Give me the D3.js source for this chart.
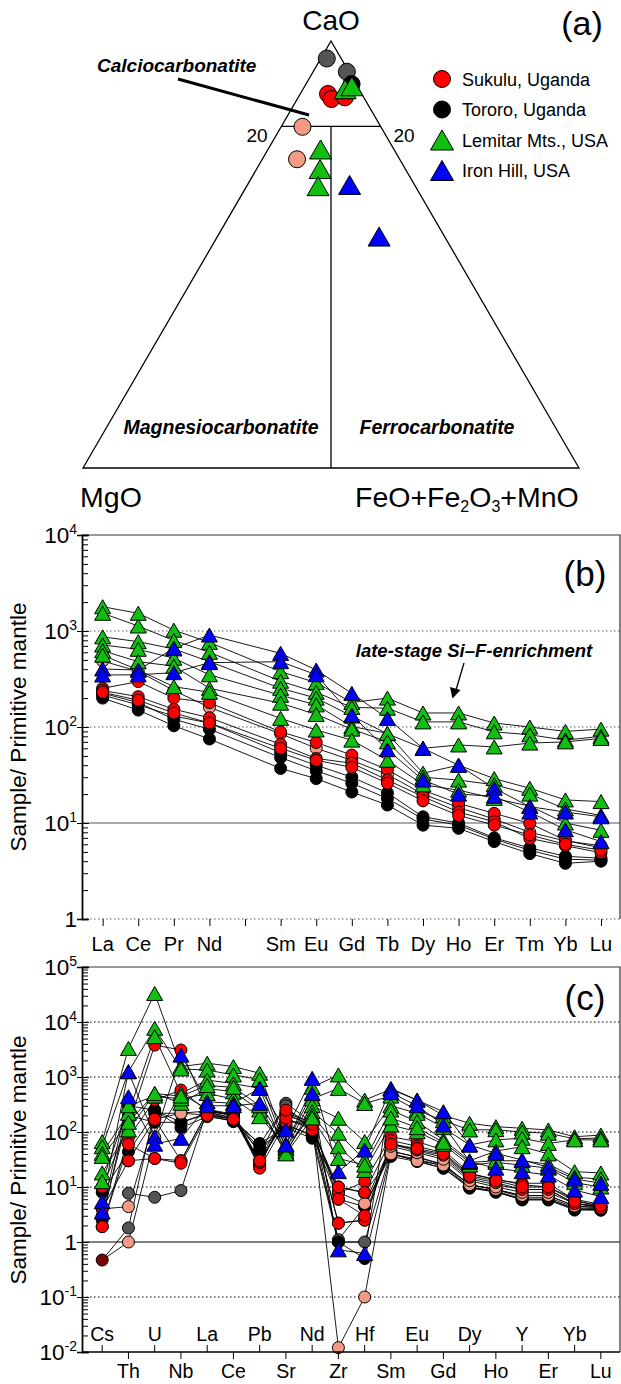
<!DOCTYPE html>
<html>
<head>
<meta charset="UTF-8">
<title>Carbonatite CaO-MgO-FeO and mantle-normalised diagrams</title>
<style>
  body { margin: 0; background: #fff; }
  text { font-family: "Liberation Sans", Arial, sans-serif; fill: #000; }
  .bi { font-weight: bold; font-style: italic; }
</style>
</head>
<body>
<svg id="fig" width="621" height="1384"></svg>
<script src="https://cdn.jsdelivr.net/npm/d3@7/dist/d3.min.js"></script>
<script>
// ---- data ----
const localities = ["Sukulu, Uganda", "Tororo, Uganda", "Lemitar Mts., USA", "Iron Hill, USA"];

// (a) ternary, wt% [CaO, MgO, FeO+Fe2O3+MnO]
const terSukulu    = [[87.6, 6.8, 5.6], [86.4, 6.7, 6.9], [86.8, 3.8, 9.4]];
const terSukuluAlt = [[79.9, 15.8, 4.3], [72.3, 20.7, 7.0]];
const terTororo    = [[89.9, 0.9, 9.2]];
const terTororoAlt = [[95.9, 2.9, 1.2], [92.8, 0.4, 6.8]];
const terLemitar   = [[88.7, 2.8, 8.5], [89.4, 1.1, 9.5], [74.6, 14.8, 10.6], [70.0, 17.2, 12.8], [66.0, 19.6, 14.4]];
const terIronHill  = [[66.3, 13.2, 20.6], [54.2, 13.2, 32.6]];

// (b) REE, primitive mantle normalised (Pm not analysed)
const reeTicks = ["La", "Ce", "Pr", "Nd", "", "Sm", "Eu", "Gd", "Tb", "Dy", "Ho", "Er", "Tm", "Yb", "Lu"];
const reeLemitar = [
  [1790, 1530, 1020, 760, null, 377, 290, 180, 200, 140, 140, 110, 100, 90, 95],
  [1530, 1127, 795, 600, null, 300, 230, 160, 157, 113, 113, 89, 83, 73, 80],
  [870, 774, 650, 480, null, 253, 200, 130, 85, 60, 65, 62, 68, 70, 76],
  [715, 645, 520, 350, null, 214, 170, 101, 86, 33, 40, 29, 23, 17.4, 16.7],
  [624, 479, 430, 253, null, 177, 135, 95, 70, 30, 28, 25, 20, 14, 12],
  [560, 392, 263, 230, null, 123, 93, 73, 45, 25, 22, 18, 15, 10, 8.4]
];
const reeIronHill = [
  [402, 392, 661, 908, null, 585, 392, 224, 123, 60, 40, 23, 14.8, 13, 11.6],
  [348, 350, 368, 468, null, 479, 350, 133, 58, 28, 20, 19, 13, 8.5, 6.4]
];
const reeSukulu = [
  [253, 297, 200, 179, null, 89, 69, 51, 36, 22, 16, 12.6, 9.9, 6.6, 5.5],
  [240, 207, 153, 125, null, 66, 47, 42, 28, 18.8, 13, 10.3, 6.9, 5.8, 4.9],
  [230, 190, 140, 110, null, 60, 45, 38, 26, 17, 12, 9.5, 7.5, 6, 5.2]
];
const reeSukuluAlt = [
  [487, 380, 240, 160, null, 85, 60, 45, 32, 20, 14.5, 11, 8, 6.5, 5.8]
];
const reeTororo = [
  [215, 170, 130, 110, null, 54, 40, 30, 20.6, 11.6, 10, 7, 5.5, 4.5, 4.3],
  [200, 150, 103, 75, null, 37, 29, 21, 15.4, 9.5, 8.8, 6.4, 4.8, 3.8, 4.0],
  [225, 180, 120, 95, null, 48, 35, 26, 18, 11, 9.5, 6.8, 5.2, 4.2, 4.1]
];

// (c) multi-element, primitive mantle normalised
const spiderTicks = ["Cs", "Th", "U", "Nb", "La", "Ce", "Pb", "Sr", "Nd", "Zr", "Hf", "Sm", "Eu", "Gd", "Dy", "Ho", "Y", "Er", "Yb", "Lu"];
const spLemitar = [
  [67, 3300, 33000, 1550, 1780, 1550, 1170, 60, 650, 1090, 380, 600, 380, 200, 144, 125, 117, 109, 82, 88],
  [54, 1250, 7700, 1400, 1340, 1090, 900, 50, 400, 620, 330, 450, 250, 160, 109, 110, 100, 95, 75, 78],
  [41, 219, 5400, 500, 880, 760, 620, 41, 300, 178, 67, 300, 219, 120, 58, 72, 77, 62, 72, 72],
  [18, 109, 500, 333, 620, 537, 251, 45, 234, 95, 31, 251, 154, 72, 30, 45, 54, 40, 19, 18],
  [12.5, 300, 450, 400, 500, 400, 190, 55, 200, 54, 20, 134, 101, 60, 25, 28, 25, 22, 12, 10],
  [36, 150, 500, 450, 700, 650, 300, 40, 180, 33, 25, 180, 120, 65, 28, 30, 30, 26, 15, 14]
];
const spIronHill = [
  [5.4, 1250, 82, 2500, 355, 333, 620, 109, 946, 19, 47, 620, 380, 234, 58, 41, 31, 23, 14, 11.7],
  [3.5, 438, 60, 77, 300, 300, 333, 58, 500, 0.72, 0.62, 520, 300, 134, 29, 22, 19, 16.5, 8.8, 6.7]
];
const spSukulu = [
  [10, 134, 3800, 3100, 251, 204, 25, 219, 125, 7.7, 12.5, 82, 67, 47, 18, 13.4, 11.7, 11.7, 5.8, 4.4],
  [1.9, 80, 380, 580, 240, 200, 22, 154, 150, 2.2, 2.5, 62, 47, 38, 15, 12, 9, 9, 5, 4.2],
  [4, 30, 170, 30, 230, 180, 28, 180, 110, 10, 8, 70, 55, 42, 17, 14, 11, 10, 6, 4.8],
  [1.9, 60, 33, 27, 200, 170, 30, 250, 140, 6, 3, 60, 50, 40, 16, 13, 10, 10, 5.5, 4.6]
];
const spSukuluAlt = [
  [null, 30, 33, 30, 230, 180, 25, 220, 150, 0.012, 0.1, 40, 30, 25, 11, 9, 7, 7, 4.5, 4.2],
  [null, 1.0, 80, 500, 260, 210, 28, 200, 140, 2.2, 2.5, 60, 45, 35, 14, 11, 9, 9, 5, 4.5],
  [4, 4.4, 170, 220, 240, 200, 30, 160, 130, 8, 5, 55, 42, 32, 13, 10, 8, 8, 5, 4.4]
];
const spTororo = [
  [8, 44, 219, 219, 204, 154, 62, 120, 77, 10, 7.8, 36, 29, 22, 9.5, 8.2, 5.8, 5.8, 3.8, 3.8],
  [3, 200, 150, 150, 220, 170, 50, 130, 90, 6, 4.4, 45, 35, 26, 11, 9, 6.5, 6.5, 4.2, 4],
  [2.5, 300, 250, 120, 190, 160, 45, 140, 85, 1.0, 0.5, 40, 32, 24, 10, 8.5, 6, 6, 4, 3.9]
];
const spTororoAlt = [
  [null, 7.7, 6.5, 8.6, 250, 200, 40, 333, 150, 1.0, 1.0, 45, 35, 25, 11, 9, 7, 7, 4.5, 4.2],
  [null, 1.8, 250, 150, 210, 170, 60, 300, 100, 1.1, 4.4, 40, 30, 22, 10, 8, 6, 6, 4, 3.8]
];
// one Cs analysis shared by two low-Th samples, plotted dark red, joined to Th = 1.0 and 1.8
const spCsLow = { value: 0.47, th: [1.0, 1.8] };

// ---- styles ----
const sty = {
  red:    { fill: "#ff0000", shape: "c" },
  salmon: { fill: "#f29a83", shape: "c" },
  black:  { fill: "#000000", shape: "c" },
  grey:   { fill: "#555555", shape: "c" },
  maroon: { fill: "#760606", shape: "c" },
  green:  { fill: "#10bf10", shape: "t" },
  blue:   { fill: "#0000ff", shape: "t" }
};

const svg = d3.select("#fig");

function tri(w, h) { return `M0,${-h / 2}L${w / 2},${h / 2}L${-w / 2},${h / 2}Z`; }

function marker(g, x, y, st, r, w, h) {
  if (st.shape === "c") {
    g.append("circle").attr("cx", x).attr("cy", y).attr("r", r)
      .attr("fill", st.fill).attr("stroke", "#000").attr("stroke-width", 1);
  } else {
    g.append("path").attr("d", tri(w, h)).attr("transform", `translate(${x},${y})`)
      .attr("fill", st.fill).attr("stroke", "#000").attr("stroke-width", 1);
  }
}

function sup(sel, base, exp, fs, sfs) {
  sel.append("tspan").text(base).attr("font-size", fs);
  sel.append("tspan").text(exp).attr("font-size", sfs).attr("dy", -fs * 0.42);
}

// ---- (a) ternary ----
const ga = svg.append("g");
const yT = d3.scaleLinear([0, 100], [468, 41]);
const xT = d3.scaleLinear([0, 100], [83, 579]);
const tp = (ca, fe) => [xT(fe + ca / 2), yT(ca)];

ga.append("path")
  .attr("d", d3.line()([tp(0, 0), tp(0, 100), tp(100, 0)]) + "Z")
  .attr("fill", "none").attr("stroke", "#000").attr("stroke-width", 1.3);
ga.append("path").attr("d", d3.line()([tp(80, 0), tp(80, 20)]))
  .attr("stroke", "#000").attr("stroke-width", 1.3);
ga.append("path").attr("d", d3.line()([tp(80, 10), tp(0, 50)]))
  .attr("stroke", "#000").attr("stroke-width", 1.3);

ga.append("text").attr("x", 331).attr("y", 30).attr("text-anchor", "middle").attr("font-size", 28).text("CaO");
ga.append("text").attr("x", 582).attr("y", 35).attr("text-anchor", "middle").attr("font-size", 34).text("(a)");
ga.append("text").attr("x", 111).attr("y", 507).attr("text-anchor", "middle").attr("font-size", 28.5).text("MgO");
const feLab = ga.append("text").attr("x", 355).attr("y", 507).attr("font-size", 28.5);
feLab.append("tspan").text("FeO+Fe");
feLab.append("tspan").text("2").attr("font-size", 16).attr("dy", 5);
feLab.append("tspan").text("O").attr("dy", -5);
feLab.append("tspan").text("3").attr("font-size", 16).attr("dy", 5);
feLab.append("tspan").text("+MnO").attr("dy", -5);
ga.append("text").attr("x", 257).attr("y", 142).attr("text-anchor", "middle").attr("font-size", 19).text("20");
ga.append("text").attr("x", 404).attr("y", 142).attr("text-anchor", "middle").attr("font-size", 19).text("20");
ga.append("text").attr("class", "bi").attr("x", 97).attr("y", 72).attr("font-size", 19).text("Calciocarbonatite");
ga.append("line").attr("x1", 178).attr("y1", 79).attr("x2", 309).attr("y2", 115)
  .attr("stroke", "#000").attr("stroke-width", 3);
ga.append("text").attr("class", "bi").attr("x", 221).attr("y", 434).attr("text-anchor", "middle").attr("font-size", 19.5).text("Magnesiocarbonatite");
ga.append("text").attr("class", "bi").attr("x", 437).attr("y", 434).attr("text-anchor", "middle").attr("font-size", 19.5).text("Ferrocarbonatite");

[[terTororoAlt, sty.grey], [terTororo, sty.black], [terSukulu, sty.red], [terSukuluAlt, sty.salmon],
 [terLemitar, sty.green], [terIronHill, sty.blue]].forEach(([rows, st]) => {
  rows.forEach(d => {
    const p = tp(d[0], d[2]);
    marker(ga, p[0], p[1], st, 8.5, 22, 19);
  });
});

// legend
const legSty = [sty.red, sty.black, sty.green, sty.blue];
localities.forEach((name, i) => {
  const y = 79 + i * 30.5;
  marker(ga, 442, y, legSty[i], 8.5, 23, 20);
  ga.append("text").attr("x", 462).attr("y", y + 6.5).attr("font-size", 18).text(name);
});

// ---- log panels ----
function logPanel(cfg) {
  const g = svg.append("g");
  const x = d3.scaleLinear(cfg.xDomain, [cfg.x0, cfg.x1]);
  const y = d3.scaleLog(cfg.yDomain, [cfg.yBot, cfg.yTop]);
  const exps = d3.range(Math.log10(cfg.yDomain[0]), Math.log10(cfg.yDomain[1]) + 1);
  const majors = exps.map(e => Math.pow(10, e));
  const minors = [];
  exps.slice(0, -1).forEach(e => d3.range(2, 10).forEach(k => minors.push(k * Math.pow(10, e))));

  // grid
  cfg.grid.forEach(([v, kind]) => {
    g.append("line").attr("x1", cfg.x0).attr("x2", cfg.x1).attr("y1", y(v)).attr("y2", y(v))
      .attr("stroke", cfg.gridColor).attr("stroke-width", 1)
      .attr("stroke-dasharray", kind === "dot" ? "1.5,2.5" : null);
  });
  // frame top + right
  g.append("path").attr("d", `M${cfg.x0},${cfg.yTop}H${cfg.x1}V${cfg.yBot}`)
    .attr("fill", "none").attr("stroke", "#333").attr("stroke-width", 1.2);

  // y axis
  const ax = g.append("g").attr("transform", `translate(${cfg.x0},0)`);
  ax.call(d3.axisLeft(y).tickValues(majors).tickSize(5).tickFormat(""));
  ax.append("g").call(d3.axisRight(y).tickValues(majors).tickSize(7).tickFormat(""));
  ax.append("g").call(d3.axisRight(y).tickValues(minors).tickSize(6).tickFormat(""));
  ax.selectAll("path.domain").attr("stroke", "#000").attr("stroke-width", 1.3);
  ax.selectAll(".tick line").attr("stroke", "#000");

  exps.forEach(e => {
    const t = g.append("text").attr("x", cfg.x0 - 5).attr("y", y(Math.pow(10, e)) + 8)
      .attr("text-anchor", "end");
    if (e === 0) t.attr("font-size", 22.5).text("1");
    else sup(t, "10", String(e), 22.5, 14);
  });

  g.append("text").attr("transform", `translate(26,${cfg.titleY}) rotate(-90)`)
    .attr("text-anchor", "middle").attr("font-size", 22.5).text("Sample/ Primitive mantle");
  g.append("text").attr("x", 585).attr("y", cfg.tagY).attr("text-anchor", "middle")
    .attr("font-size", 35).text(cfg.tag);

  // series
  const line = d3.line().x(d => x(d[0])).y(d => y(d[1]));
  const ptsOf = vals => vals.map((v, i) => [i, v]).filter(d => d[1] != null);
  cfg.sets.forEach(([rows]) => rows.forEach(vals => {
    g.append("path").attr("d", line(ptsOf(vals))).attr("fill", "none")
      .attr("stroke", "#000").attr("stroke-width", 0.9);
  }));
  cfg.sets.forEach(([rows, st]) => rows.forEach(vals => {
    ptsOf(vals).forEach(d => marker(g, x(d[0]), y(d[1]), st, 6, 16, 14));
  }));
  return { g, x, y, line };
}

// (b)
const pb = logPanel({
  x0: 82, x1: 620, yTop: 535, yBot: 919,
  xDomain: [-0.58, 14.534], yDomain: [1, 1e4],
  grid: [[1e3, "dot"], [1e2, "dot"], [10, "solid"], [1, "dot"]],
  gridColor: "#555", titleY: 727, tag: "(b)", tagY: 586,
  sets: [[reeTororo, sty.black], [reeSukuluAlt, sty.salmon], [reeSukulu, sty.red],
         [reeLemitar, sty.green], [reeIronHill, sty.blue]]
});
pb.g.append("g").attr("transform", "translate(0,919)")
  .call(d3.axisBottom(pb.x).tickValues(d3.range(reeTicks.length)).tickSize(7).tickFormat(""))
  .call(s => s.select(".domain").remove())
  .selectAll(".tick line").attr("stroke", "#000");
reeTicks.forEach((t, i) => {
  pb.g.append("text").attr("x", pb.x(i)).attr("y", 951).attr("text-anchor", "middle")
    .attr("font-size", 20).text(t);
});
pb.g.append("text").attr("class", "bi").attr("x", 474).attr("y", 657).attr("text-anchor", "middle")
  .attr("font-size", 18.5).text("late-stage Si\u2013F-enrichment");
pb.g.append("line").attr("x1", 464).attr("y1", 663).attr("x2", 456).attr("y2", 690)
  .attr("stroke", "#000").attr("stroke-width", 1.3);
pb.g.append("path").attr("d", "M452.5,698.5L450,687L460.5,690Z").attr("fill", "#000");

// (c)
const pc = logPanel({
  x0: 82, x1: 620, yTop: 967, yBot: 1352,
  xDomain: [-0.77, 19.73], yDomain: [1e-2, 1e5],
  grid: [[1e4, "dot"], [1e3, "dot"], [1e2, "dot"], [10, "dot"], [1, "solid"], [0.1, "dot"]],
  gridColor: "#000", titleY: 1160, tag: "(c)", tagY: 1010,
  sets: [[spTororoAlt, sty.grey], [spTororo, sty.black], [spSukuluAlt, sty.salmon], [spSukulu, sty.red],
         [spLemitar, sty.green], [spIronHill, sty.blue]]
});
spCsLow.th.forEach(v => {
  pc.g.insert("path", "circle").attr("d", pc.line([[0, spCsLow.value], [1, v]]))
    .attr("fill", "none").attr("stroke", "#000").attr("stroke-width", 0.9);
});
marker(pc.g, pc.x(0), pc.y(spCsLow.value), sty.maroon, 6, 16, 14);
pc.g.append("line").attr("x1", 82).attr("x2", 620).attr("y1", 1352).attr("y2", 1352)
  .attr("stroke", "#000").attr("stroke-width", 1.3);
spiderTicks.forEach((t, i) => {
  const up = i % 2 === 0;
  pc.g.append("line").attr("x1", pc.x(i)).attr("x2", pc.x(i))
    .attr("y1", 1352).attr("y2", up ? 1345 : 1359).attr("stroke", "#000");
  pc.g.append("text").attr("x", pc.x(i)).attr("y", up ? 1341 : 1378).attr("text-anchor", "middle")
    .attr("font-size", 19.5).text(t);
});
</script>
</body>
</html>
